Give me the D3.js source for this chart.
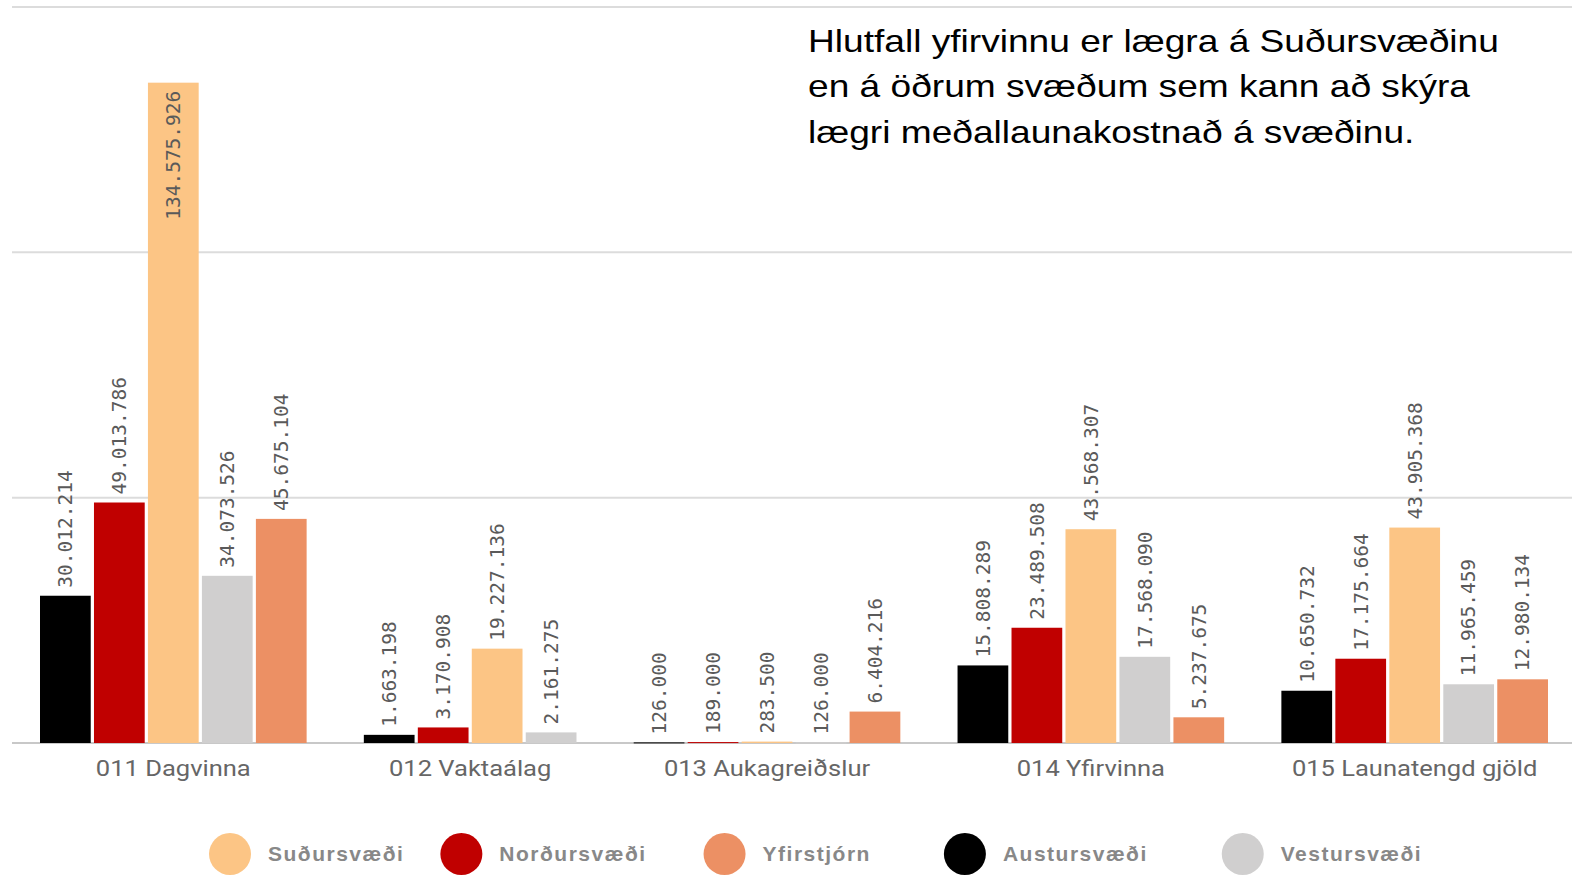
<!DOCTYPE html>
<html>
<head>
<meta charset="utf-8">
<script src="https://cdn.jsdelivr.net/npm/d3@7"></script>
<style>
  html, body { margin: 0; padding: 0; background: #fff; }
  svg { display: block; }
</style>
</head>
<body>
<svg id="chart" width="1572" height="877"></svg>
<script>
// ---- data ----
const categories = ["011 Dagvinna", "012 Vaktaálag", "013 Aukagreiðslur", "014 Yfirvinna", "015 Launatengd gjöld"];
const seriesNames = ["Austursvæði", "Norðursvæði", "Suðursvæði", "Vestursvæði", "Yfirstjórn"];
const austursvaedi = [30012214, 1663198, 126000, 15808289, 10650732];
const nordursvaedi = [49013786, 3170908, 189000, 23489508, 17175664];
const sudursvaedi  = [134575926, 19227136, 283500, 43568307, 43905368];
const vestursvaedi = [34073526, 2161275, 126000, 17568090, 11965459];
const yfirstjorn   = [45675104, null, 6404216, 5237675, 12980134];
const legendOrder = ["Suðursvæði", "Norðursvæði", "Yfirstjórn", "Austursvæði", "Vestursvæði"];
const gridTicks = [0, 50000000, 100000000, 150000000];
const titleLines = [
  "Hlutfall yfirvinnu er lægra á Suðursvæðinu",
  "en á öðrum svæðum sem kann að skýra",
  "lægri meðallaunakostnað á svæðinu."
];

const seriesValues = [austursvaedi, nordursvaedi, sudursvaedi, vestursvaedi, yfirstjorn];
const colors = d3.scaleOrdinal()
  .domain(seriesNames)
  .range(["#000000", "#c00000", "#fcc585", "#d0cfcf", "#ec9064"]);

const fmt = d3.formatLocale({ decimal: ",", thousands: ".", grouping: [3], currency: ["", ""] }).format(",d");

// ---- build slots ----
const bars = [];
const slots = [];
const groups = [];
categories.forEach((cat, ci) => {
  const g = { cat, keys: [] };
  seriesNames.forEach((s, si) => {
    const v = seriesValues[si][ci];
    if (v != null) {
      const key = ci + "|" + s;
      slots.push(key);
      g.keys.push(key);
      bars.push({ key, cat, series: s, value: v });
    }
  });
  groups.push(g);
  if (ci < categories.length - 1) slots.push("gap" + ci);
});

const svg = d3.select("#chart");
const W = 1572;

const x = d3.scaleBand().domain(slots).range([40, 1548]).paddingInner(0.06).paddingOuter(0);
const y = d3.scaleLinear().domain([0, 150000000]).range([743, 7]);

// gridlines
svg.append("g").selectAll("line").data(gridTicks).join("line")
  .attr("x1", 12).attr("x2", W)
  .attr("y1", d => y(d)).attr("y2", d => y(d))
  .attr("stroke", d => d === 0 ? "#c8c8c8" : "#dcdcdc")
  .attr("stroke-width", 2);

// bars
svg.append("g").selectAll("rect").data(bars).join("rect")
  .attr("x", d => x(d.key))
  .attr("width", x.bandwidth())
  .attr("y", d => y(d.value))
  .attr("height", d => Math.max(1, y(0) - y(d.value)))
  .attr("fill", d => colors(d.series));

// value labels
const lbl = svg.append("g").selectAll("text").data(bars).join("text")
  .attr("font-family", "'DejaVu Sans Mono', monospace")
  .attr("font-size", 19.5)
  .attr("fill", "#5a5a5a")
  .attr("dy", "0.35em")
  .text(d => fmt(d.value));
lbl.each(function(d) {
  const len = this.getComputedTextLength();
  const cx = x(d.key) + x.bandwidth() / 2;
  const top = y(d.value);
  const t = d3.select(this);
  if (top - 8 - len < y(150000000)) {
    t.attr("text-anchor", "end").attr("transform", `translate(${cx},${top + 8}) rotate(-90)`);
  } else {
    t.attr("text-anchor", "start").attr("transform", `translate(${cx},${top - 8}) rotate(-90)`);
  }
});

// category labels
svg.append("g").selectAll("text").data(groups).join("text")
  .attr("transform", g => {
    const a = x(g.keys[0]);
    const b = x(g.keys[g.keys.length - 1]) + x.bandwidth();
    return `translate(${(a + b) / 2},776) scale(1.16,1)`;
  })
  .attr("text-anchor", "middle")
  .attr("font-family", "Roboto, 'Liberation Sans', sans-serif")
  .attr("font-size", 22)
  .attr("fill", "#666")
  .text(g => g.cat);

// title text
svg.append("g")
  .attr("transform", "translate(808,0) scale(1.16,1)")
  .selectAll("text").data(titleLines).join("text")
  .attr("x", 0)
  .attr("y", (d, i) => 52 + i * 45.5)
  .attr("font-family", "'Liberation Sans', Arial, sans-serif")
  .attr("font-size", 32)
  .attr("fill", "#000")
  .text(d => d);

// legend
const legendGaps = [36, 57, 73, 74];
const leg = svg.append("g");
let lx = 209;
legendOrder.forEach((name, i) => {
  leg.append("circle").attr("cx", lx + 21).attr("cy", 854).attr("r", 21).attr("fill", colors(name));
  const t = leg.append("text")
    .attr("x", lx + 59).attr("y", 861)
    .attr("font-family", "'Liberation Sans', Arial, sans-serif")
    .attr("font-weight", "bold")
    .attr("font-size", 21)
    .attr("letter-spacing", 1.5)
    .attr("fill", "#888")
    .text(name);
  lx = lx + 59 + t.node().getComputedTextLength() + (legendGaps[i] || 60);
});
</script>
</body>
</html>
